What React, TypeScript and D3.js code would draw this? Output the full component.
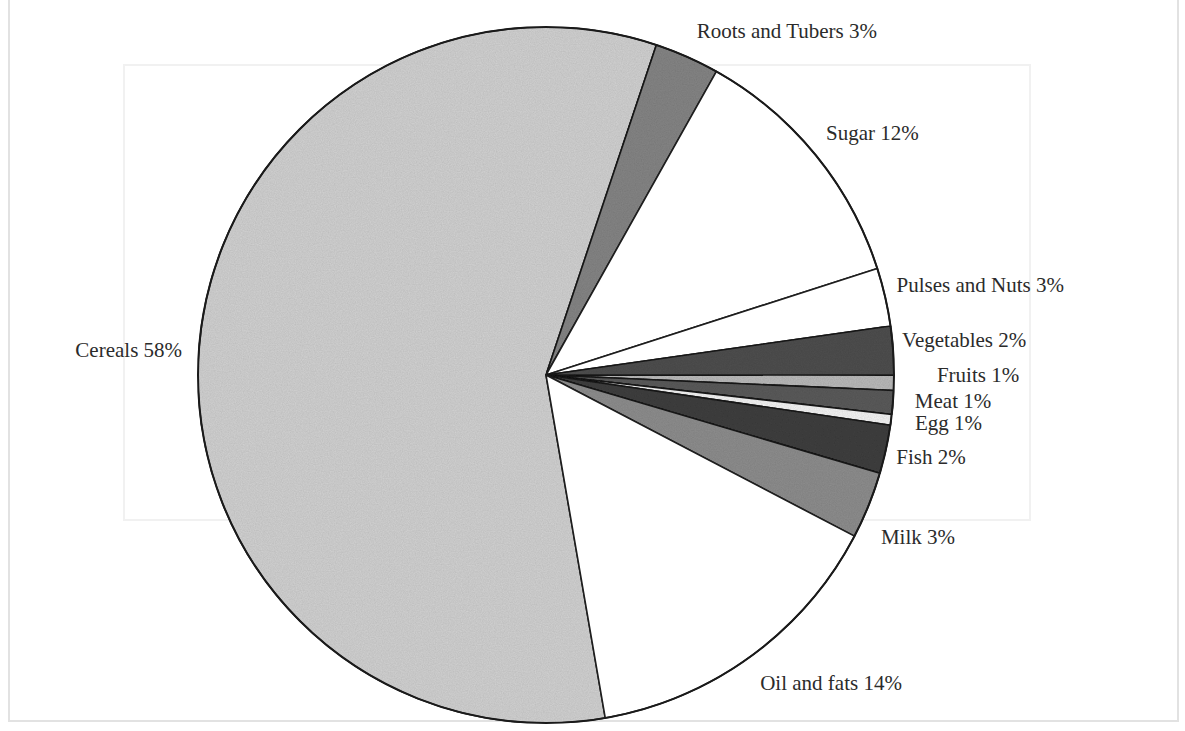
import * as d3 from 'd3';
import { useEffect, useRef } from 'react';

// shares (clockwise, starting with Cereals at the bottom)
const categories = [
  'Cereals',
  'Roots and Tubers',
  'Sugar',
  'Pulses and Nuts',
  'Vegetables',
  'Fruits',
  'Meat',
  'Egg',
  'Fish',
  'Milk',
  'Oil and fats',
];
const shares = [57.8, 3.0, 11.9, 2.7, 2.25, 0.7, 1.1, 0.5, 2.25, 3.1, 14.6];
// percentages as printed on the labels
const printedPct = [58, 3, 12, 3, 2, 1, 1, 1, 2, 3, 14];

const fills = [
  '#d2d2d2',
  '#858585',
  '#ffffff',
  '#ffffff',
  '#505050',
  '#bababa',
  '#5c5c5c',
  '#f4f4f4',
  '#404040',
  '#8e8e8e',
  '#ffffff',
];

// small per-label shifts from the outside-end spot
const nudges: [number, number][] = [
  [7, 10],
  [0, 3],
  [-8, 0],
  [-12, 0],
  [-15, -2],
  [19, -1],
  [-2, 4],
  [0, 7],
  [-13, 9],
  [-10, 30],
  [-5, 14],
];

const W = 1185;
const H = 731;

export default function App() {
  const ref = useRef<SVGSVGElement>(null);

  useEffect(() => {
    document.body.style.margin = '0';
    if (!ref.current) return;
    const svg = d3.select(ref.current);
    svg.selectAll('*').remove();

    const cx = 546,
      cy = 375,
      r = 348;

    // grain filter for the scanned look
    const defs = svg.append('defs');
    const f = defs
      .append('filter')
      .attr('id', 'grain')
      .attr('x', 0)
      .attr('y', 0)
      .attr('width', 1)
      .attr('height', 1);
    f.append('feTurbulence')
      .attr('type', 'fractalNoise')
      .attr('baseFrequency', 0.85)
      .attr('numOctaves', 2)
      .attr('seed', 3)
      .attr('result', 'noise');
    f.append('feColorMatrix')
      .attr('in', 'noise')
      .attr('type', 'matrix')
      .attr('values', '0 0 0 0 0  0 0 0 0 0  0 0 0 0 0  0 0 0 0.22 0')
      .attr('result', 'dots');
    f.append('feComposite')
      .attr('in', 'dots')
      .attr('in2', 'SourceGraphic')
      .attr('operator', 'in')
      .attr('result', 'dotsIn');
    f.append('feMerge').call((m) => {
      m.append('feMergeNode').attr('in', 'SourceGraphic');
      m.append('feMergeNode').attr('in', 'dotsIn');
    });

    svg.append('rect').attr('width', W).attr('height', H).attr('fill', '#fff');

    // faint frames showing through from the scan
    svg
      .append('path')
      .attr('d', `M9,0 V721 H1178 V0`)
      .attr('fill', 'none')
      .attr('stroke', '#e2e2e2')
      .attr('stroke-width', 2);
    svg
      .append('rect')
      .attr('x', 124)
      .attr('y', 65)
      .attr('width', 906)
      .attr('height', 455)
      .attr('fill', 'none')
      .attr('stroke', '#f1f1f1')
      .attr('stroke-width', 2);

    const data = categories.map((c, i) => ({ c, v: shares[i], i }));
    const start = (170.2 * Math.PI) / 180;
    const pie = d3
      .pie<{ c: string; v: number; i: number }>()
      .sort(null)
      .value((d) => d.v)
      .startAngle(start)
      .endAngle(start + 2 * Math.PI);
    const arcs = pie(data);
    const arc = d3
      .arc<d3.PieArcDatum<{ c: string; v: number; i: number }>>()
      .innerRadius(0)
      .outerRadius(r);

    const g = svg.append('g').attr('transform', `translate(${cx},${cy})`);
    g.selectAll('path.slice')
      .data(arcs)
      .join('path')
      .attr('class', 'slice')
      .attr('d', arc)
      .attr('fill', (d) => fills[d.data.i])
      .attr('filter', (d) => (fills[d.data.i] === '#ffffff' ? null : 'url(#grain)'))
      .attr('stroke', '#1e1e1e')
      .attr('stroke-width', 1.6)
      .attr('stroke-linejoin', 'round');

    g.append('circle')
      .attr('r', r)
      .attr('fill', 'none')
      .attr('stroke', '#1a1a1a')
      .attr('stroke-width', 2);

    const lr = r + 24;
    g.selectAll('text')
      .data(arcs)
      .join('text')
      .each(function (d) {
        const a = (d.startAngle + d.endAngle) / 2;
        const [nx, ny] = nudges[d.data.i];
        d3.select(this)
          .attr('x', lr * Math.sin(a) + nx)
          .attr('y', -lr * Math.cos(a) + ny)
          .attr('text-anchor', Math.sin(a) < 0 ? 'end' : 'start');
      })
      .attr('font-family', '"Liberation Serif", "Times New Roman", serif')
      .attr('font-size', 21)
      .attr('fill', '#2b2b2b')
      .text((d) => `${d.data.c} ${printedPct[d.data.i]}%`);
  }, []);

  return <svg ref={ref} width={W} height={H} style={{ display: 'block' }} />;
}
